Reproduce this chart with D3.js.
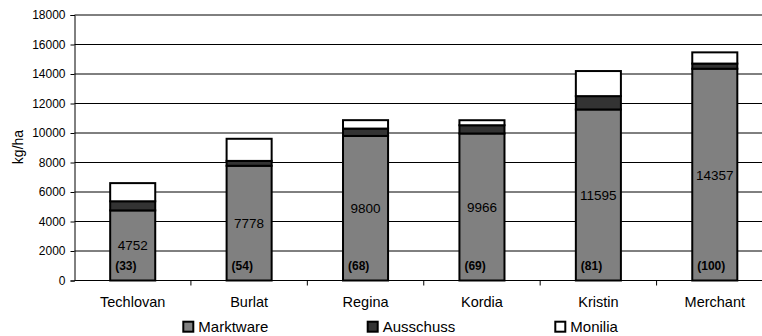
<!DOCTYPE html>
<html><head><meta charset="utf-8">
<script src="https://cdn.jsdelivr.net/npm/d3@7/dist/d3.min.js"></script>
<style>
html,body{margin:0;padding:0;background:#fff;}
svg{display:block;}
text{font-family:"Liberation Sans",Arial,sans-serif;fill:#000;}
</style></head>
<body>
<svg id="chart" width="762" height="336"></svg>
<script>
const categories = ["Techlovan","Burlat","Regina","Kordia","Kristin","Merchant"];
const marktware = [4752, 7778, 9800, 9966, 11595, 14357];
const ausschuss = [620, 330, 500, 560, 905, 350];
const monilia = [1230, 1500, 570, 340, 1700, 760];
const relative = [33, 54, 68, 69, 81, 100];
const yTicks = [0,2000,4000,6000,8000,10000,12000,14000,16000,18000];
const seriesNames = ["Marktware","Ausschuss","Monilia"];
const seriesColors = ["#808080","#333333","#ffffff"];

const svg = d3.select("#chart");
const mLeft = 74.5, mRight = 773, mTop = 15, mBottom = 280.5;

const x = d3.scaleBand().domain(categories).range([mLeft, mRight])
  .paddingInner(0.613).paddingOuter(0.3065);
const y = d3.scaleLinear().domain([0, 18000]).range([mBottom, mTop]);

// gridlines
svg.append("g").selectAll("line").data(yTicks.filter(d => d > 0)).join("line")
  .attr("x1", mLeft).attr("x2", 762)
  .attr("y1", d => y(d)).attr("y2", d => y(d))
  .attr("stroke", "#000").attr("stroke-width", 1);

// y axis
const yAxis = svg.append("g").attr("transform", `translate(${mLeft},0)`)
  .call(d3.axisLeft(y).tickValues(yTicks).tickSize(4).tickPadding(5).tickFormat(d3.format("d")));
yAxis.attr("font-family", null);
yAxis.select(".domain").attr("stroke", "#000");
yAxis.selectAll(".tick line").attr("stroke", "#000");
yAxis.selectAll("text").style("font-size", "12px").attr("fill", "#111");

// stacked data
const rows = categories.map((c, i) => ({cat: c, Marktware: marktware[i], Ausschuss: ausschuss[i], Monilia: monilia[i]}));
const stack = d3.stack().keys(seriesNames)(rows);

const barW = x.bandwidth();
stack.forEach((layer, li) => {
  svg.append("g").selectAll("rect").data(layer).join("rect")
    .attr("x", d => x(d.data.cat))
    .attr("width", barW)
    .attr("y", d => y(d[1]))
    .attr("height", d => y(d[0]) - y(d[1]))
    .attr("fill", seriesColors[li])
    .attr("stroke", "#000").attr("stroke-width", 2);
});

// x axis
const step = x.step();
svg.append("line").attr("x1", mLeft).attr("x2", 762).attr("y1", y(0)).attr("y2", y(0))
  .attr("stroke", "#000").attr("stroke-width", 1);
const bounds = d3.range(1, categories.length).map(i => x(categories[i]) - x.paddingInner() * step / 2);
svg.append("g").selectAll("line").data(bounds).join("line")
  .attr("x1", d => d).attr("x2", d => d).attr("y1", y(0)).attr("y2", y(0) + 5)
  .attr("stroke", "#000");
svg.append("g").selectAll("text").data(categories).join("text")
  .attr("x", d => x(d) + barW / 2).attr("y", 306.5)
  .attr("text-anchor", "middle").style("font-size", "14.5px").attr("fill", "#111").text(d => d);

// value labels (Marktware)
svg.append("g").selectAll("text").data(stack[0]).join("text")
  .attr("x", d => x(d.data.cat) + barW / 2)
  .attr("y", d => (y(d[0]) + y(d[1])) / 2 + 5)
  .attr("text-anchor", "middle").style("font-size", "13.5px").attr("fill", "#1a1a1a")
  .text(d => d.data.Marktware);

// relative labels
svg.append("g").selectAll("text").data(relative).join("text")
  .attr("x", (d, i) => x(categories[i]) + 5)
  .attr("y", 269.5)
  .style("font-size", "12px").style("font-weight", "bold").attr("fill", "#1a1a1a")
  .text(d => `(${d})`);

// y axis title
svg.append("text").attr("transform", "translate(23,147) rotate(-90)")
  .attr("text-anchor", "middle").style("font-size", "14px").attr("fill", "#111").text("kg/ha");

// legend
const legendX = [183.3, 367.7, 555.3];
const lg = svg.append("g").selectAll("g").data(seriesNames).join("g")
  .attr("transform", (d, i) => `translate(${legendX[i]},321.7)`);
lg.append("rect").attr("width", 10).attr("height", 10)
  .attr("fill", (d, i) => seriesColors[i]).attr("stroke", "#000").attr("stroke-width", 2);
lg.append("text").attr("x", 15).attr("y", 10.3).style("font-size", "15px").attr("fill", "#111").text(d => d);
</script>
</body></html>
